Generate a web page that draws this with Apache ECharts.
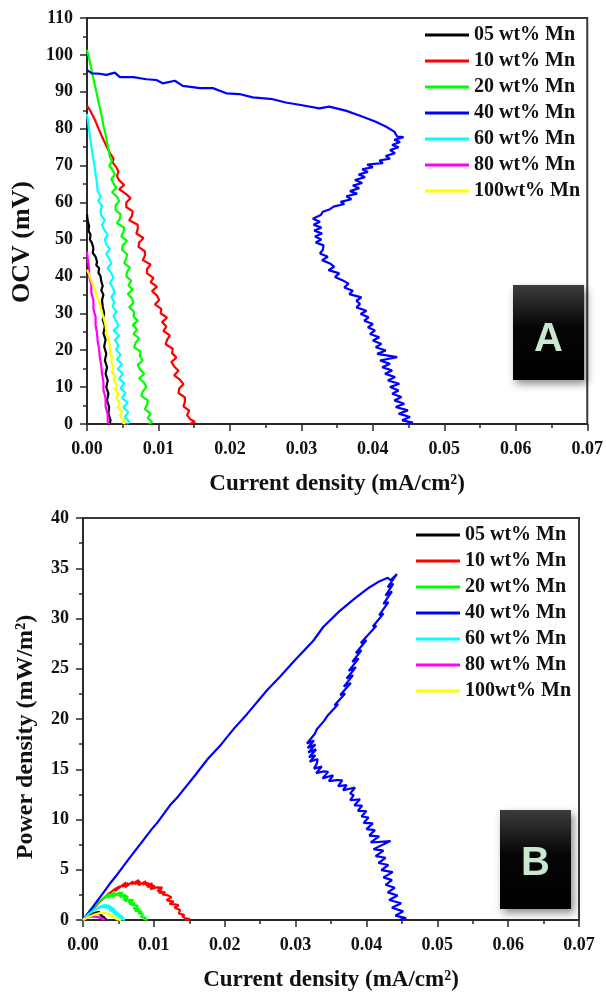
<!DOCTYPE html>
<html>
<head>
<meta charset="utf-8">
<script src="https://cdn.jsdelivr.net/npm/echarts@6/dist/echarts.min.js"></script>
<style>
  html, body { margin: 0; padding: 0; background: #fff; }
  #chart { width: 606px; height: 999px; }
</style>
</head>
<body>
<div id="chart"></div>
<script>
// Polarisation data: [current density (mA/cm²), OCV (mV)]
const seriesNames = ['05 wt% Mn', '10 wt% Mn', '20 wt% Mn', '40 wt% Mn', '60 wt% Mn', '80 wt% Mn', '100wt% Mn'];
const seriesColors = ['#000000', '#ff0000', '#00ff00', '#0000ff', '#00ffff', '#ff00ff', '#ffff00'];

const mn05 = [[0,56.8],[0.0001,55.0],[0.0003,53.6],[0.0002,52.4],[0.0005,51.3],[0.0004,50.0],[0.0007,49.0],[0.0009,47.6],[0.0008,46.4],[0.0012,45.3],[0.0014,44.0],[0.0013,43.0],[0.0017,42.2],[0.0016,41.0],[0.0019,40.0],[0.0020,38.6],[0.0022,37.4],[0.0020,36.2],[0.0023,35.0],[0.0021,33.6],[0.0022,31.8],[0.0024,30.0],[0.0022,28.2],[0.0025,26.5],[0.0023,24.6],[0.0026,22.8],[0.0024,21.0],[0.0027,19.0],[0.0025,17.2],[0.0028,15.4],[0.0026,13.6],[0.0029,11.8],[0.0027,10.0],[0.0030,8.2],[0.0028,6.4],[0.0031,4.6],[0.0030,2.8],[0.0033,1.0],[0.0032,0.2]];

const mn10 = [[0,86.2],[0.0004,85.1],[0.0008,83.6],[0.0012,82.0],[0.0016,80.1],[0.0020,78.3],[0.0024,76.6],[0.0028,75.0],[0.0032,73.4],
  [0.0037,72.0],[0.0036,70.8],[0.0041,69.6],[0.0044,68.4],[0.0042,67.2],[0.0045,66.0],[0.0052,64.8],[0.0045,63.6],[0.0054,62.4],[0.0061,61.2],
  [0.0055,60.0],[0.0055,58.8],[0.0064,57.6],[0.0063,56.4],[0.0059,55.2],[0.0071,54.0],[0.0071,52.8],[0.0069,51.6],[0.0079,50.4],[0.0073,49.2],
  [0.0072,48.0],[0.0081,46.8],[0.0081,45.6],[0.0078,44.4],[0.0089,43.2],[0.0084,42.0],[0.0084,40.8],[0.0093,39.6],[0.0089,38.4],[0.0098,37.2],
  [0.0091,36.0],[0.0098,34.8],[0.0101,33.6],[0.0095,32.4],[0.0104,31.2],[0.0103,30.0],[0.0112,28.8],[0.0105,27.6],[0.0111,26.4],[0.0107,25.2],
  [0.0116,24.0],[0.0112,22.8],[0.0110,21.6],[0.0120,20.4],[0.0119,19.2],[0.0125,18.0],[0.0118,16.8],[0.0122,15.6],[0.0128,14.4],[0.0122,13.2],
  [0.0130,12.0],[0.0135,10.8],[0.0129,9.6],[0.0128,8.4],[0.0137,7.2],[0.0137,6.0],[0.0135,4.8],[0.0143,3.6],[0.0140,2.4],[0.0145,1.2],
  [0.0151,0.6],[0.0144,0]];

const mn20 = [[0,101.4],[0.0003,99.0],[0.0006,96.3],[0.0009,93.5],[0.0012,91.0],[0.0015,88.2],[0.0018,85.6],[0.0021,83.0],[0.0023,80.8],[0.0026,78.4],[0.0028,76.5],[0.0030,74.3],[0.0032,72.4],
  [0.0035,71.2],[0.0031,70.0],[0.0036,68.8],[0.0039,67.6],[0.0034,66.4],[0.0037,65.2],[0.0041,64.0],[0.0035,62.8],[0.0042,61.6],[0.0045,60.4],
  [0.0040,59.2],[0.0040,58.0],[0.0047,56.8],[0.0046,55.6],[0.0042,54.4],[0.0052,53.2],[0.0051,52.0],[0.0048,50.8],[0.0056,49.6],[0.0050,48.4],
  [0.0049,47.2],[0.0056,46.0],[0.0055,44.8],[0.0052,43.6],[0.0060,42.4],[0.0056,41.2],[0.0055,40.0],[0.0062,38.8],[0.0058,37.6],[0.0064,36.4],
  [0.0057,35.2],[0.0063,34.0],[0.0065,32.8],[0.0059,31.6],[0.0066,30.4],[0.0065,29.2],[0.0071,28.0],[0.0064,26.8],[0.0070,25.6],[0.0065,24.4],
  [0.0073,23.2],[0.0068,22.0],[0.0066,20.8],[0.0075,19.6],[0.0074,18.4],[0.0078,17.2],[0.0071,16.0],[0.0074,14.8],[0.0080,13.6],[0.0073,12.4],
  [0.0080,11.2],[0.0083,10.0],[0.0078,8.8],[0.0076,7.6],[0.0085,6.4],[0.0084,5.2],[0.0081,4.0],[0.0089,2.8],[0.0085,1.6],[0.0091,0.6],[0.0087,0]];

const mn40 = [[0,95.9],[0.0007,95.0],[0.0018,94.9],[0.0027,94.6],[0.0039,95.2],[0.0046,94.0],[0.0065,94.0],[0.0083,93.4],[0.0097,93.2],[0.0106,92.3],[0.0123,93.0],[0.0134,91.6],[0.0158,91.0],[0.0176,91.0],[0.0195,89.6],[0.0213,89.4],[0.0232,88.5],[0.0260,88.0],[0.0278,87.1],[0.0297,86.5],[0.0325,85.5],[0.0339,86.0],[0.0362,84.9],[0.0385,83.3],[0.0404,81.9],[0.0418,80.6],[0.0430,79.2],[0.0434,77.9],
  [0.0443,77.7],[0.0430,77.0],[0.0438,76.4],[0.0427,75.6],[0.0436,75.0],[0.0424,74.2],[0.0431,73.4],[0.0418,72.6],[0.0424,71.9],[0.0409,71.4],[0.0414,70.7],[0.0392,70.3],[0.0400,69.6],[0.0385,69.0],[0.0393,68.3],[0.0380,67.6],[0.0389,66.9],[0.0375,66.1],[0.0385,65.3],[0.0372,64.6],[0.0381,63.9],[0.0368,63.1],[0.0378,62.4],[0.0363,61.7],[0.0370,60.9],[0.0355,60.2],[0.0360,59.6],[0.0345,58.9],[0.0340,58.2],[0.0330,57.5],[0.0327,56.6],[0.0316,55.6],[0.0326,54.8],[0.0317,54.0],[0.0328,53.2],[0.0318,52.4],[0.0329,51.6],[0.0319,50.8],[0.0328,50.0],[0.0320,49.2],[0.0331,48.4],
  [0.0330,47.2],[0.0326,46.2],[0.0337,45.3],[0.0329,44.4],[0.0340,43.5],[0.0346,42.6],[0.0338,41.7],[0.0353,40.8],[0.0347,39.8],[0.0358,38.9],[0.0366,38.0],[0.0360,37.0],[0.0372,36.1],[0.0367,35.2],[0.0384,34.3],[0.0377,33.4],[0.0382,32.5],[0.0377,31.6],[0.0391,30.7],[0.0383,29.8],[0.0394,28.9],[0.0388,28.0],[0.0400,27.1],[0.0393,26.2],[0.0403,25.3],[0.0396,24.4],[0.0409,23.5],[0.0400,22.6],[0.0412,21.7],[0.0404,20.8],[0.0418,19.9],[0.0406,19.0],[0.0434,18.1],[0.0410,17.2],[0.0424,16.3],[0.0413,15.4],[0.0427,14.5],[0.0417,13.6],[0.0431,12.7],[0.0421,11.8],[0.0437,10.9],[0.0424,10.0],[0.0436,9.1],[0.0427,8.2],[0.0440,7.3],[0.0430,6.4],[0.0444,5.5],[0.0432,4.6],[0.0449,3.7],[0.0436,2.8],[0.0452,1.9],[0.0441,1.0],[0.0456,0.4],[0.0446,0]];

const mn60 = [[0,84.0],[0.0002,81.2],[0.0004,78.3],[0.0006,75.5],[0.0008,72.8],[0.0010,70.4],[0.0012,67.8],[0.0014,65.2],[0.0015,63.0],
  [0.0019,61.7],[0.0016,60.4],[0.0021,59.1],[0.0019,57.8],[0.0020,56.5],[0.0025,55.2],[0.0021,53.9],[0.0024,52.6],[0.0029,51.3],[0.0025,50.0],
  [0.0027,48.7],[0.0032,47.4],[0.0027,46.1],[0.0031,44.8],[0.0034,43.5],[0.0029,42.2],[0.0034,40.9],[0.0037,39.6],[0.0032,38.3],[0.0036,37.0],
  [0.0039,35.7],[0.0034,34.4],[0.0038,33.1],[0.0036,31.8],[0.0041,30.5],[0.0037,29.2],[0.0041,27.9],[0.0044,26.6],[0.0037,25.3],[0.0045,24.0],
  [0.0039,22.7],[0.0044,21.4],[0.0041,20.1],[0.0047,18.8],[0.0042,17.5],[0.0049,16.2],[0.0043,14.9],[0.0050,13.6],[0.0045,12.3],[0.0052,11.0],
  [0.0047,9.7],[0.0054,8.4],[0.0049,7.1],[0.0057,5.8],[0.0051,4.5],[0.0058,3.2],[0.0053,1.9],[0.0059,0.6],[0.0056,0]];

const mn80 = [[0,46.7],[0.0001,44.5],[0.0003,42.2],[0.0003,40.0],[0.0006,37.8],[0.0006,35.6],[0.0009,33.4],[0.0009,31.2],[0.0012,29.0],[0.0012,26.8],[0.0014,24.6],[0.0015,22.4],[0.0017,20.2],[0.0018,18.0],[0.0020,15.8],[0.0021,13.6],[0.0023,11.4],[0.0023,9.2],[0.0026,7.0],[0.0026,4.8],[0.0029,2.6],[0.0029,0.6],[0.0031,0]];

const mn100 = [[0,41.8],[0.0002,41.0],[0.0004,40.0],[0.0006,38.9],[0.0008,37.8],[0.0010,36.8],[0.0012,35.8],[0.0014,34.6],[0.0016,33.6],[0.0018,32.4],[0.0020,31.0],[0.0022,29.6],[0.0024,28.2],[0.0026,26.6],[0.0027,25.0],[0.0029,23.6],[0.0031,22.0],[0.0033,20.4],[0.0032,19.2],[0.0035,18.0],[0.0034,16.6],[0.0037,15.4],[0.0035,14.0],[0.0040,13.0],[0.0037,11.8],[0.0042,10.6],[0.0039,9.4],[0.0044,8.2],[0.0041,7.0],[0.0046,5.8],[0.0043,4.6],[0.0049,3.4],[0.0046,2.2],[0.0052,1.2],[0.0049,0.5],[0.0054,0.1]];

const polarisation = [mn05, mn10, mn20, mn40, mn60, mn80, mn100];

// Axis ranges and tick steps
const currentAxis = { min: 0, max: 0.07, step: 0.01 };
const ocvAxis = { min: 0, max: 110, step: 10 };
const powerAxis = { min: 0, max: 40, step: 5 };

// Power density P = j·V : (mA/cm²)·(mV) = µW/cm² = 10 mW/m²
const toPower = pts => pts.map(([j, v]) => [j, +(j * v * 10).toFixed(4)]);

const FONT = '"Liberation Serif", "Times New Roman", serif';
const AXIS_COLOR = '#2a2a2a';

function xAxisFor(gridIndex, nameGap) {
  return {
    type: 'value', gridIndex,
    min: currentAxis.min, max: currentAxis.max, interval: currentAxis.step,
    name: 'Current density (mA/cm²)', nameLocation: 'middle', nameGap,
    nameTextStyle: { fontFamily: FONT, fontWeight: 'bold', fontSize: 23, color: '#111' },
    axisLine: { show: true, lineStyle: { color: AXIS_COLOR, width: 2 } },
    axisTick: { show: true, length: 7, lineStyle: { color: AXIS_COLOR, width: 1.5 } },
    minorTick: { show: true, splitNumber: 2, length: 4, lineStyle: { color: AXIS_COLOR, width: 1.5 } },
    axisLabel: { margin: 16, fontFamily: FONT, fontWeight: 'bold', fontSize: 18, color: '#111',
                 formatter: v => v.toFixed(2) },
    splitLine: { show: false }
  };
}

function yAxisFor(gridIndex, range, name, nameGap, shift, nameSize) {
  return {
    type: 'value', gridIndex,
    min: range.min, max: range.max, interval: range.step,
    name, nameLocation: 'middle', nameGap,
    nameTextStyle: { fontFamily: FONT, fontWeight: 'bold', fontSize: nameSize, color: '#111',
                     padding: [0, shift, 0, 0] },
    axisLine: { show: true, lineStyle: { color: AXIS_COLOR, width: 2 } },
    axisTick: { show: true, length: 7, lineStyle: { color: AXIS_COLOR, width: 1.5 } },
    minorTick: { show: true, splitNumber: 2, length: 4, lineStyle: { color: AXIS_COLOR, width: 1.5 } },
    axisLabel: { margin: 14, fontFamily: FONT, fontWeight: 'bold', fontSize: 18, color: '#111' },
    splitLine: { show: false }
  };
}

function legendAt(left, top) {
  return {
    orient: 'vertical', left, top, padding: 0,
    icon: 'rect', itemWidth: 44, itemHeight: 3, itemGap: 6,
    selectedMode: false,
    textStyle: { fontFamily: FONT, fontWeight: 'bold', fontSize: 20, lineHeight: 20, color: '#111' },
    data: seriesNames
  };
}

function panelTag(letter, x, y, w, h, letterY) {
  return {
    type: 'group',
    children: [
      {
        type: 'rect',
        shape: { x, y, width: w, height: h },
        style: {
          fill: new echarts.graphic.LinearGradient(0, 0, 0, 1, [
            { offset: 0, color: '#3c3c3c' },
            { offset: 0.45, color: '#050505' },
            { offset: 1, color: '#000000' }
          ]),
          shadowBlur: 8, shadowOffsetX: 3, shadowOffsetY: 4, shadowColor: 'rgba(0,0,0,0.45)'
        }
      },
      {
        type: 'text',
        style: {
          x: x + w / 2, y: letterY, text: letter,
          font: 'bold 40px "Liberation Sans", Arial, sans-serif',
          fill: '#c9e8cf', align: 'center', verticalAlign: 'middle'
        }
      }
    ]
  };
}

const series = [];
polarisation.forEach((pts, k) => {
  const common = {
    type: 'line', name: seriesNames[k], symbol: 'none', showSymbol: false,
    color: seriesColors[k], lineStyle: { width: 2.2 }, animation: false
  };
  series.push(Object.assign({}, common, { xAxisIndex: 0, yAxisIndex: 0, data: pts }));
  series.push(Object.assign({}, common, { xAxisIndex: 1, yAxisIndex: 1, data: toPower(pts) }));
});

const chart = echarts.init(document.getElementById('chart'), null, { renderer: 'canvas' });
chart.setOption({
  backgroundColor: '#ffffff',
  animation: false,
  grid: [
    { left: 87, top: 18, width: 502, height: 406, show: true, borderColor: '#3a3a3a', borderWidth: 2, backgroundColor: 'transparent' },
    { left: 83, top: 518, width: 496, height: 402, show: true, borderColor: '#3a3a3a', borderWidth: 2, backgroundColor: 'transparent' }
  ],
  xAxis: [xAxisFor(0, 49), xAxisFor(1, 49)],
  yAxis: [
    yAxisFor(0, ocvAxis, 'OCV (mV)', 51, 42, 26),
    yAxisFor(1, powerAxis, 'Power density (mW/m²)', 45, 36, 24)
  ],
  legend: [legendAt(425, 25), legendAt(416, 525)],
  graphic: [
    panelTag('A', 513, 285, 71, 95, 340),
    panelTag('B', 500, 810, 71, 99, 864)
  ],
  series
});
</script>
</body>
</html>
